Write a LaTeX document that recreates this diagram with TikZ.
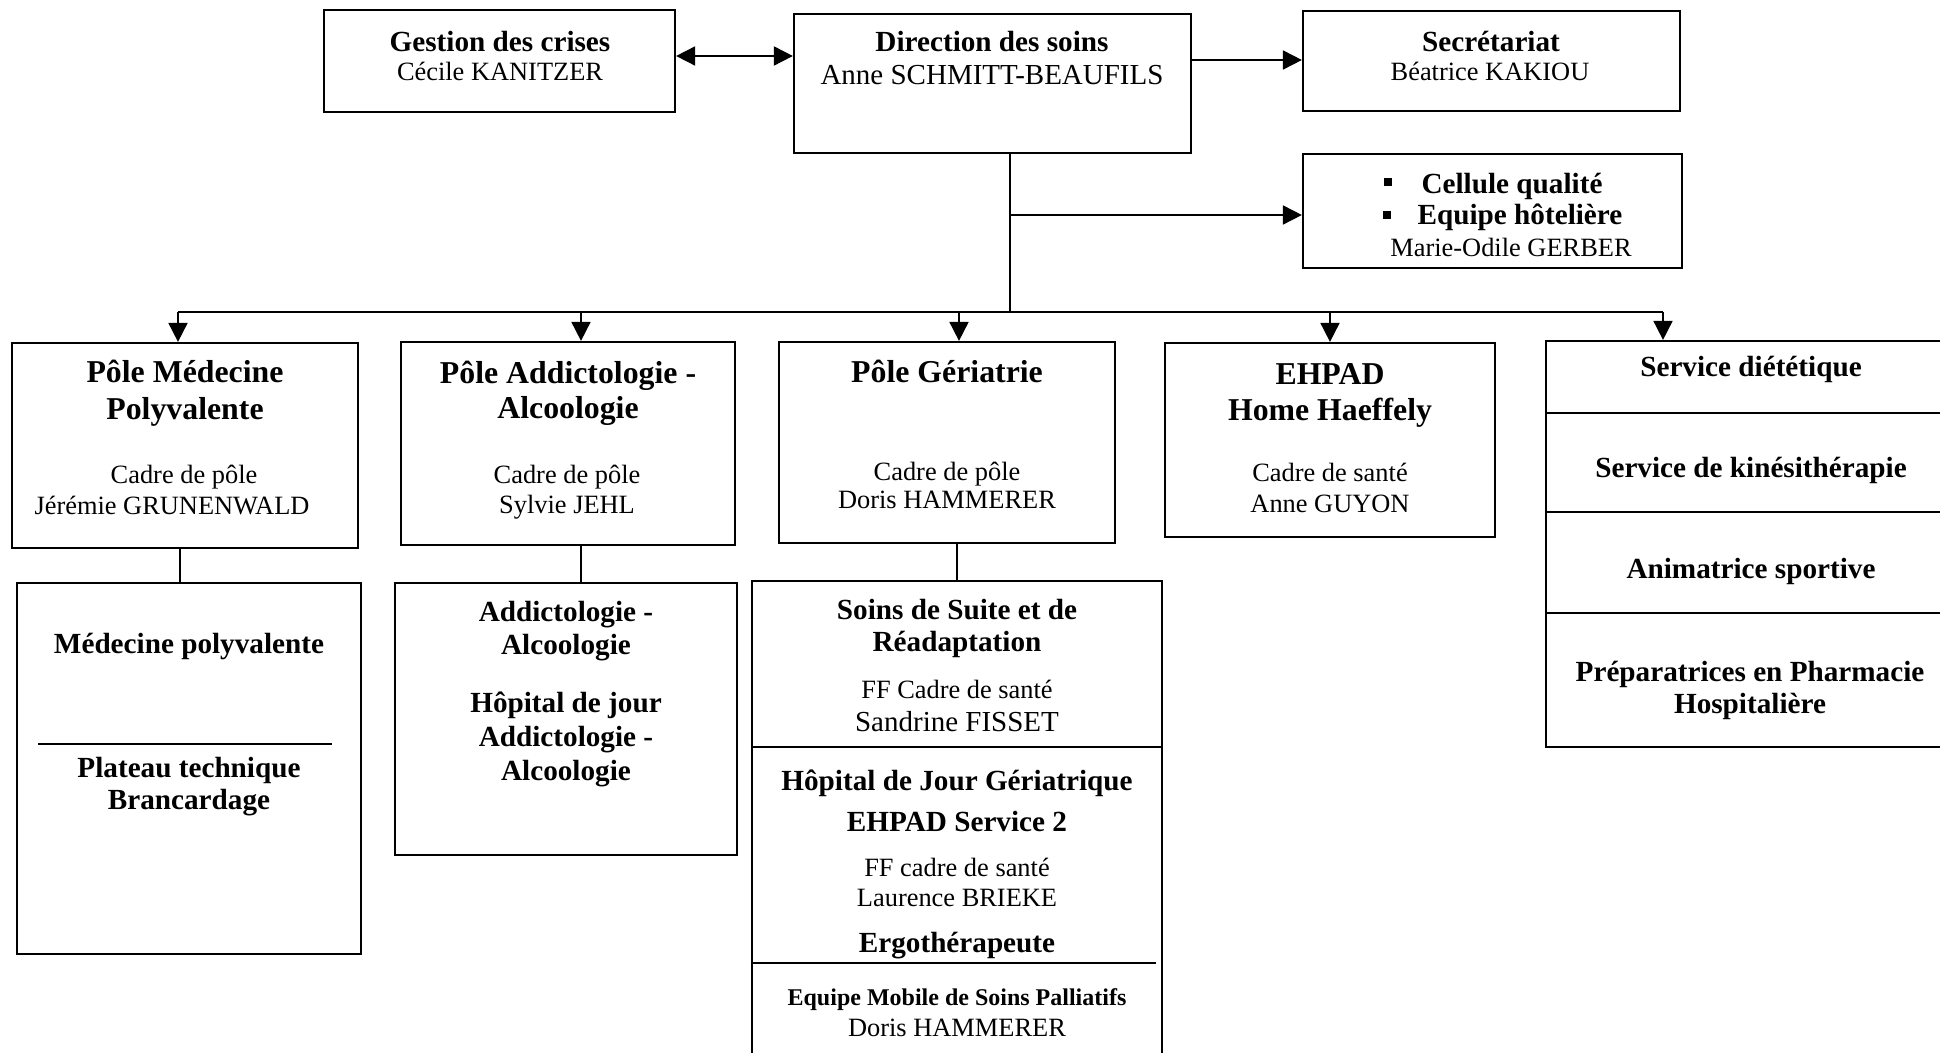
\documentclass[tikz,border=0pt]{standalone}
\usepackage{fontspec}
\setmainfont{Liberation Serif}
\usetikzlibrary{arrows.meta,fit}
\begin{document}
\begin{tikzpicture}[x=0.5pt,y=-0.5pt,
  box/.style={draw, line width=1.1pt, inner sep=0pt},
  conn/.style={line width=0.9pt},
  arr/.style={conn, -{Triangle[length=9.5pt,width=9.5pt]}},
  darr/.style={conn, {Triangle[length=9.5pt,width=9.5pt]}-{Triangle[length=9.5pt,width=9.5pt]}},
  txt/.style={inner sep=0pt, text depth=0pt},
  hb/.style={txt, font=\fontsize{15.9}{19}\selectfont\bfseries, text height=10.5pt},
  bb/.style={txt, font=\fontsize{14.6}{17.5}\selectfont\bfseries, text height=9.66pt},
  nn/.style={txt, font=\fontsize{13.2}{16}\selectfont, text height=8.74pt},
  nl/.style={txt, font=\fontsize{14.5}{17}\selectfont, text height=9.6pt},
  sb/.style={txt, font=\fontsize{12}{14}\selectfont\bfseries, text height=7.94pt},
  bul/.style={fill, minimum size=3.8pt, inner sep=0pt}
]
\useasboundingbox (0,0) rectangle (1940,1053);
\fill[white] (0,0) rectangle (1940,1053);
\clip (0,0) rectangle (1940,1053);

% ---- boxes ----
\node[box, fit={(324,10) (675,112)}] (gestion) {};
\node[box, fit={(794,14) (1191,153)}] (direction) {};
\node[box, fit={(1303,11) (1680,111)}] (secretariat) {};
\node[box, fit={(1303,154) (1682,268)}] (cellule) {};
\node[box, fit={(12,343) (358,548)}] (poleMed) {};
\node[box, fit={(401,342) (735,545)}] (poleAdd) {};
\node[box, fit={(779,342) (1115,543)}] (poleGer) {};
\node[box, fit={(1165,343) (1495,537)}] (ehpad) {};
\node[box, fit={(1546,341) (1962,747)}] (services) {};
\node[box, fit={(17,583) (361,954)}] (medSub) {};
\node[box, fit={(395,583) (737,855)}] (addSub) {};
\node[box, fit={(752,581) (1162,1075)}] (gerSub) {};

% ---- texts ----
\node[bb] (tg1) at (500,42) {Gestion des crises};
\node[nn] (tg2) at (500,72) {Cécile KANITZER};
\node[bb] (td1) at (992,42) {Direction des soins};
\node[nl] (td2) at (992,75) {Anne SCHMITT-BEAUFILS};
\node[bb] (ts1) at (1491,42) {Secrétariat};
\node[nn] (ts2) at (1490,72) {Béatrice KAKIOU};
\node[bul] (bu1) at (1388,182) {};
\node[bul] (bu2) at (1387,215) {};
\node[bb] (tc1) at (1512,184) {Cellule qualité};
\node[bb] (tc2) at (1520,215) {Equipe hôtelière};
\node[nn] (tc3) at (1511,248) {Marie-Odile GERBER};

\node[hb] (pm1) at (185,372) {Pôle Médecine};
\node[hb] (pm2) at (185,409) {Polyvalente};
\node[nn] (pm3) at (184,475) {Cadre de pôle};
\node[nn] (pm4) at (172,506) {Jérémie GRUNENWALD};

\node[hb] (pa1) at (568,373) {Pôle Addictologie -};
\node[hb] (pa2) at (568,408) {Alcoologie};
\node[nn] (pa3) at (567,475) {Cadre de pôle};
\node[nn] (pa4) at (567,505) {Sylvie JEHL};

\node[hb] (pg1) at (947,372) {Pôle Gériatrie};
\node[nn] (pg2) at (947,472) {Cadre de pôle};
\node[nn] (pg3) at (947,500) {Doris HAMMERER};

\node[hb] (pe1) at (1330,374) {EHPAD};
\node[hb] (pe2) at (1330,410) {Home Haeffely};
\node[nn] (pe3) at (1330,473) {Cadre de santé};
\node[nn] (pe4) at (1330,504) {Anne GUYON};

\node[bb] (sv1) at (1751,367) {Service diététique};
\node[bb] (sv2) at (1751,468) {Service de kinésithérapie};
\node[bb] (sv3) at (1751,569) {Animatrice sportive};
\node[bb] (sv4) at (1750,672) {Préparatrices en Pharmacie};
\node[bb] (sv5) at (1750,704) {Hospitalière};

\node[bb] (ms1) at (189,644) {Médecine polyvalente};
\node[bb] (ms2) at (189,768) {Plateau technique};
\node[bb] (ms3) at (189,800) {Brancardage};

\node[bb] (as1) at (566,612) {Addictologie -};
\node[bb] (as2) at (566,645) {Alcoologie};
\node[bb] (as3) at (566,703) {Hôpital de jour};
\node[bb] (as4) at (566,737) {Addictologie -};
\node[bb] (as5) at (566,771) {Alcoologie};

\node[bb] (gs1) at (957,610) {Soins de Suite et de};
\node[bb] (gs2) at (957,642) {Réadaptation};
\node[nn] (gs3) at (957,690) {FF Cadre de santé};
\node[nl] (gs4) at (957,722) {Sandrine FISSET};
\node[bb] (gs5) at (957,781) {Hôpital de Jour Gériatrique};
\node[bb] (gs6) at (957,822) {EHPAD Service 2};
\node[nn] (gs7) at (957,868) {FF cadre de santé};
\node[nn] (gs8) at (957,898) {Laurence BRIEKE};
\node[bb] (gs9) at (957,943) {Ergothérapeute};
\node[sb] (gs10) at (957,998) {Equipe Mobile de Soins Palliatifs};
\node[nn] (gs11) at (957,1028) {Doris HAMMERER};

% ---- inner dividers ----
\coordinate (s1) at (0,413);
\coordinate (s2) at (0,512);
\coordinate (s3) at (0,613);
\draw[box] (s1 -| services.west) -- (s1 -| services.east);
\draw[box] (s2 -| services.west) -- (s2 -| services.east);
\draw[box] (s3 -| services.west) -- (s3 -| services.east);
\coordinate (g1) at (0,747);
\coordinate (g2) at (1156,963);
\draw[box] (g1 -| gerSub.west) -- (g1 -| gerSub.east);
\draw[box] (g2 -| gerSub.west) -- (g2);
\coordinate (u1) at (38,744);
\coordinate (u2) at (332,744);
\draw[line width=0.8pt] (u1) -- (u2);

% ---- connectors ----
\coordinate (ge) at (0,56);
\draw[darr] (ge -| gestion.east) -- (ge -| direction.west);
\coordinate (se) at (0,60);
\draw[arr] (se -| direction.east) -- (se -| secretariat.west);
\coordinate (tr) at (1010,312);
\draw[conn] (tr |- direction.south) -- (tr);
\coordinate (cq) at (1010,215);
\draw[arr] (cq) -- (cq -| cellule.west);
\coordinate (b1) at (178,312);
\coordinate (b2) at (581,312);
\coordinate (b3) at (959,312);
\coordinate (b4) at (1330,312);
\coordinate (b5) at (1663,312);
\draw[conn] (b1) -- (b5);
\draw[arr] (b1) -- (b1 |- poleMed.north);
\draw[arr] (b2) -- (b2 |- poleAdd.north);
\draw[arr] (b3) -- (b3 |- poleGer.north);
\draw[arr] (b4) -- (b4 |- ehpad.north);
\draw[arr] (b5) -- (b5 |- services.north);
\coordinate (xm) at (180,0);
\coordinate (xa) at (581,0);
\coordinate (xg) at (957,0);
\draw[conn] (xm |- poleMed.south) -- (xm |- medSub.north);
\draw[conn] (xa |- poleAdd.south) -- (xa |- addSub.north);
\draw[conn] (xg |- poleGer.south) -- (xg |- gerSub.north);
\end{tikzpicture}
\end{document}
